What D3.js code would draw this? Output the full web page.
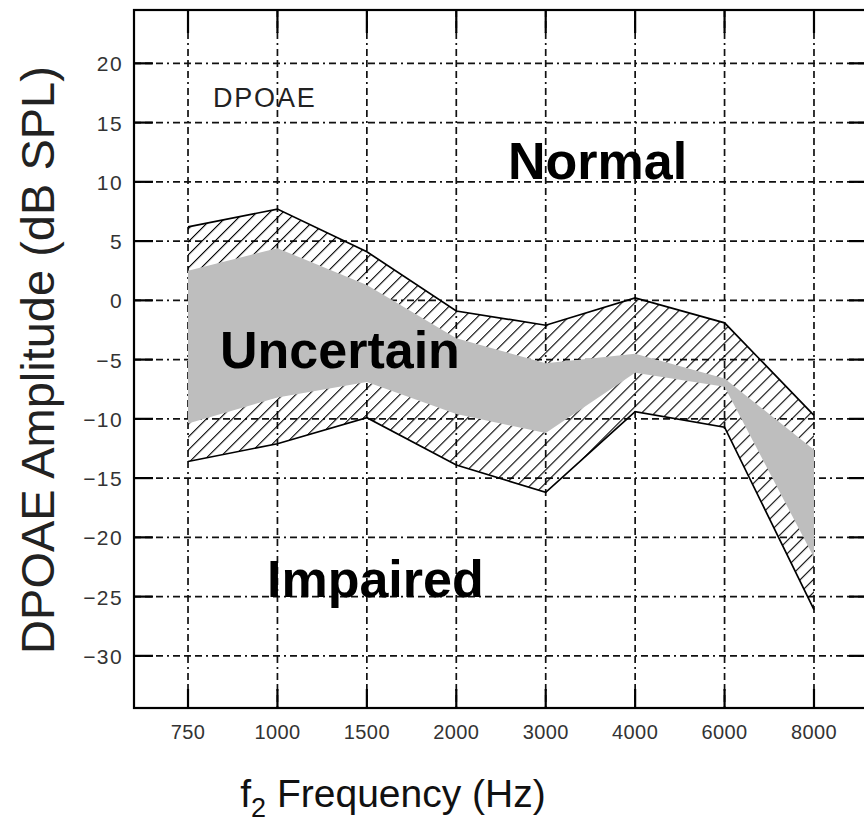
<!DOCTYPE html>
<html>
<head>
<meta charset="utf-8">
<script src="https://cdn.jsdelivr.net/npm/d3@7"></script>
<style>
  html, body { margin: 0; padding: 0; background: #fff; overflow: hidden; }
  svg { display: block; }
</style>
</head>
<body>
<svg id="chart" width="864" height="827"></svg>
<script>
// ---- data ----
const frequencies = ["750", "1000", "1500", "2000", "3000", "4000", "6000", "8000"];
const outerUpper = [6.2, 7.7, 4.1, -0.9, -2.1, 0.2, -1.9, -9.7];
const grayUpper  = [2.5, 4.4, 1.3, -3.2, -5.3, -4.5, -6.6, -12.6];
const grayLower  = [-10.4, -8.2, -6.9, -9.6, -11.2, -6.1, -7.3, -21.7];
const outerLower = [-13.6, -12.1, -9.9, -13.9, -16.2, -9.4, -10.7, -26.1];
const yTickValues = [20, 15, 10, 5, 0, -5, -10, -15, -20, -25, -30];
const regionLabels = [
  { text: "Normal", f: "2000", v: 10.2 },
  { text: "Uncertain", f: "750", v: -5.7 },
  { text: "Impaired", f: "1000", v: -25 }
];

// ---- layout ----
const svg = d3.select("#chart");
const frame = { left: 134, right: 868, top: 10, bottom: 708 };

const x = d3.scalePoint()
  .domain(frequencies)
  .range([frame.left, frame.right])
  .padding(0.604);

const y = d3.scaleLinear()
  .domain([-34.4, 24.5])
  .range([frame.bottom, frame.top]);

// hatch pattern
const defs = svg.append("defs");
const pat = defs.append("pattern")
  .attr("id", "hatch")
  .attr("patternUnits", "userSpaceOnUse")
  .attr("width", 9.2)
  .attr("height", 9.2)
  .attr("patternTransform", "rotate(45)");
pat.append("line")
  .attr("x1", 0).attr("y1", -1).attr("x2", 0).attr("y2", 11)
  .attr("stroke", "#000").attr("stroke-width", 2.2);

const gridDash = "7,4,7,4,7,4,2,4";

// grid
const grid = svg.append("g");
grid.selectAll("line.h")
  .data(yTickValues)
  .join("line")
  .attr("x1", frame.left).attr("x2", frame.right)
  .attr("y1", d => y(d)).attr("y2", d => y(d))
  .attr("stroke", "#111").attr("stroke-width", 1.7)
  .attr("stroke-dasharray", gridDash);
grid.selectAll("line.v")
  .data(frequencies)
  .join("line")
  .attr("x1", d => x(d)).attr("x2", d => x(d))
  .attr("y1", frame.top).attr("y2", frame.bottom)
  .attr("stroke", "#111").attr("stroke-width", 1.7)
  .attr("stroke-dasharray", gridDash);

// bands
const idx = frequencies.map((f, i) => i);
const area = (lo, hi) => d3.area()
  .x(i => x(frequencies[i]))
  .y0(i => y(lo[i]))
  .y1(i => y(hi[i]));

svg.append("path")
  .datum(idx)
  .attr("d", area(grayLower, grayUpper))
  .attr("fill", "#bebebe");

svg.append("path")
  .datum(idx)
  .attr("d", area(grayUpper, outerUpper))
  .attr("fill", "url(#hatch)");

svg.append("path")
  .datum(idx)
  .attr("d", area(outerLower, grayLower))
  .attr("fill", "url(#hatch)");

const line = arr => d3.line()
  .x(i => x(frequencies[i]))
  .y(i => y(arr[i]));

[outerUpper, outerLower].forEach(arr => {
  svg.append("path")
    .datum(idx)
    .attr("d", line(arr))
    .attr("fill", "none")
    .attr("stroke", "#000")
    .attr("stroke-width", 1.7);
});

// frame
svg.append("rect")
  .attr("x", frame.left).attr("y", frame.top)
  .attr("width", frame.right - frame.left)
  .attr("height", frame.bottom - frame.top)
  .attr("fill", "none")
  .attr("stroke", "#000")
  .attr("stroke-width", 2.2);

// ticks (inside)
const tickLen = 19;
const ticks = svg.append("g").attr("stroke", "#000").attr("stroke-width", 2.2);
yTickValues.forEach(v => {
  ticks.append("line").attr("x1", frame.left).attr("x2", frame.left + tickLen)
    .attr("y1", y(v)).attr("y2", y(v));
  ticks.append("line").attr("x1", frame.right - tickLen).attr("x2", frame.right)
    .attr("y1", y(v)).attr("y2", y(v));
});
frequencies.forEach(f => {
  ticks.append("line").attr("x1", x(f)).attr("x2", x(f))
    .attr("y1", frame.top).attr("y2", frame.top + 23);
  ticks.append("line").attr("x1", x(f)).attr("x2", x(f))
    .attr("y1", frame.bottom - 19).attr("y2", frame.bottom);
});

// tick labels
svg.append("g").selectAll("text")
  .data(yTickValues)
  .join("text")
  .attr("x", 123)
  .attr("y", d => y(d) + 8)
  .attr("text-anchor", "end")
  .attr("font-family", "'Liberation Sans', Arial, sans-serif")
  .attr("font-size", 21)
  .attr("letter-spacing", 1.4)
  .attr("fill", "#333")
  .text(d => d < 0 ? "\u2212" + Math.abs(d) : String(d));

svg.append("g").selectAll("text")
  .data(frequencies)
  .join("text")
  .attr("x", d => x(d))
  .attr("y", 739)
  .attr("text-anchor", "middle")
  .attr("font-family", "'Liberation Sans', Arial, sans-serif")
  .attr("font-size", 20)
  .attr("letter-spacing", 0.4)
  .attr("fill", "#333")
  .text(d => d);

// axis titles
const xt = svg.append("text")
  .attr("x", 393)
  .attr("y", 807)
  .attr("text-anchor", "middle")
  .attr("font-family", "'Liberation Sans', Arial, sans-serif")
  .attr("font-size", 39)
  .attr("fill", "#111");
xt.append("tspan").text("f");
xt.append("tspan").attr("font-size", 27).attr("dy", 10).text("2");
xt.append("tspan").attr("dy", -10).text(" Frequency (Hz)");

svg.append("text")
  .attr("transform", "translate(54,360) rotate(-90)")
  .attr("text-anchor", "middle")
  .attr("font-family", "'Liberation Sans', Arial, sans-serif")
  .attr("font-size", 47)
  .attr("fill", "#222")
  .text("DPOAE Amplitude (dB SPL)");

// inner labels
svg.append("text")
  .attr("x", 213)
  .attr("y", 107)
  .attr("font-family", "'Liberation Sans', Arial, sans-serif")
  .attr("font-size", 27)
  .attr("letter-spacing", 1.8)
  .attr("fill", "#222")
  .text("DPOAE");

svg.append("g").selectAll("text")
  .data(regionLabels)
  .join("text")
  .attr("x", (d, i) => [508, 220, 267][i])
  .attr("y", d => y(d.v))
  .attr("font-family", "'Liberation Sans', Arial, sans-serif")
  .attr("font-weight", "bold")
  .attr("font-size", 52)
  .attr("fill", "#000")
  .text(d => d.text);
</script>
</body>
</html>
